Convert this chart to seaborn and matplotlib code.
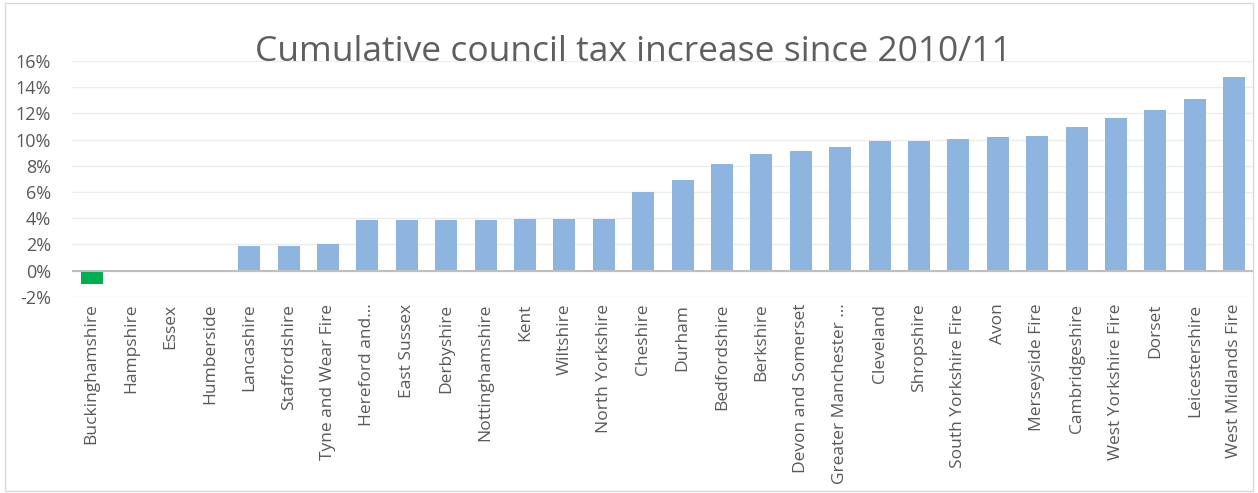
import matplotlib
matplotlib.use("Agg")
import matplotlib.pyplot as plt
import matplotlib.patches as mpatches
import seaborn as sns
import pandas as pd

categories = ["Buckinghamshire", "Hampshire", "Essex", "Humberside", "Lancashire",
              "Staffordshire", "Tyne and Wear Fire", "Hereford and...", "East Sussex",
              "Derbyshire", "Nottinghamshire", "Kent", "Wiltshire", "North Yorkshire",
              "Cheshire", "Durham", "Bedfordshire", "Berkshire", "Devon and Somerset",
              "Greater Manchester ...", "Cleveland", "Shropshire", "South Yorkshire Fire",
              "Avon", "Merseyside Fire", "Cambridgeshire", "West Yorkshire Fire",
              "Dorset", "Leicestershire", "West Midlands Fire"]
values = [-1.0, 0.0, 0.0, 0.0, 1.9, 1.9, 2.0, 3.85, 3.9, 3.9, 3.9, 3.95, 3.95, 3.95,
          5.97, 6.95, 8.15, 8.9, 9.17, 9.42, 9.9, 9.9, 10.07, 10.2, 10.28, 10.97,
          11.65, 12.27, 13.1, 14.75]
yticks = [-2, 0, 2, 4, 6, 8, 10, 12, 14, 16]
title = "Cumulative council tax increase since 2010/11"

sns.set_theme(style="white")
plt.rcParams['font.family'] = ['Open Sans', 'DejaVu Sans']

df = pd.DataFrame({"category": categories, "value": values})
colors = ["#00B050" if v < 0 else "#8DB5E0" for v in values]

fig = plt.figure(figsize=(12.58, 4.93), dpi=100)
ax = fig.add_axes([0.0572, 0.398, 0.9395, 0.478])
sns.barplot(data=df, x="category", y="value", hue="category", palette=colors,
            legend=False, width=0.56, ax=ax, saturation=1, linewidth=0)

ax.set_ylim(-2, 16)
ax.set_xlim(-0.5, len(categories) - 0.5)
ax.set_yticks(yticks)
ax.set_yticklabels([f"{t}%" for t in yticks], color="#595959", fontsize=13)
ax.set_xticks(range(len(categories)))
ax.set_xticklabels(categories, rotation=90, color="#595959", fontsize=12.5)
ax.tick_params(axis="y", length=0, pad=15)
ax.tick_params(axis="x", length=0, pad=5)
ax.set_xlabel("")
ax.set_ylabel("")
for s in ax.spines.values():
    s.set_visible(False)
ax.grid(axis="y", color="#EDEDED", linewidth=1)
ax.set_axisbelow(True)
ax.axhline(0, color="#BFBFBF", linewidth=1.5, zorder=1)

fig.text(0.503, 0.895, title, ha="center", va="center", fontsize=25.5, color="#5f5f5f")

fig.patches.append(mpatches.Rectangle((0.004, 0.004), 0.992, 0.99, transform=fig.transFigure,
                                      fill=False, edgecolor="#D9D9D9", linewidth=1))

fig.savefig("out.png", dpi=100)
